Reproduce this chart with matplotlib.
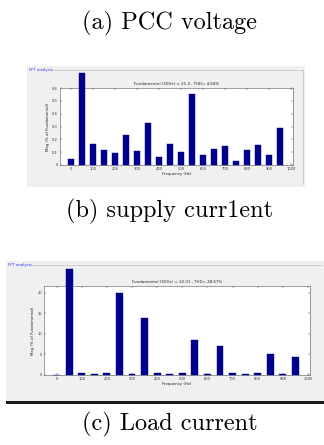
import matplotlib
matplotlib.use("Agg")
import matplotlib.pyplot as plt
from matplotlib.patches import Rectangle
from matplotlib.lines import Line2D

W, H = 324, 445
DPI = 100

freqs = [0, 50, 100, 150, 200, 250, 300, 350, 400, 450, 500,
         550, 600, 650, 700, 750, 800, 850, 900, 950]
pcc_mag = [0.047, 0.72, 0.164, 0.115, 0.097, 0.237, 0.11, 0.331, 0.065, 0.162,
           0.104, 0.553, 0.078, 0.125, 0.151, 0.031, 0.115, 0.154, 0.076, 0.29]
load_mag = [0.1, 25.8, 0.5, 0.25, 0.5, 19.8, 0.3, 13.9, 0.5, 0.25,
            0.5, 8.6, 0.3, 7.0, 0.45, 0.2, 0.45, 5.2, 0.3, 4.4]
xticks = [0, 100, 200, 300, 400, 500, 600, 700, 800, 900, 1000]
pcc_yticks = [0, 0.1, 0.2, 0.3, 0.4, 0.5, 0.6]
pcc_yticklabels = ["0", "0.1", "0.2", "0.3", "0.4", "0.5", "0.6"]
load_yticks = [0, 5, 10, 15, 20]
pcc_title = "Fundamental (50Hz) = 21.3 , THD= 4.64%"
load_title = "Fundamental (50Hz) = 22.01 , THD= 28.67%"
captions = ["(a) PCC voltage", "(b) supply curr1ent", "(c) Load current"]

BAR = "#00008c"
GREY = "#f0f0f0"

fig = plt.figure(figsize=(W / DPI, H / DPI), dpi=DPI)
fig.patch.set_facecolor("white")


def box(l, t, r, b):
    return [l / W, 1 - b / H, (r - l) / W, (b - t) / H]


def fx(x):
    return x / W


def fy(y):
    return 1 - y / H


def panel(gl, gt, gr, gb, al, at, ar, ab, mags, yticks, ylabels, ylim, title,
          frame_right=True):
    bg = fig.add_axes(box(gl, gt, gr, gb))
    bg.set_facecolor(GREY)
    bg.set_xticks([]); bg.set_yticks([])
    for s in bg.spines.values():
        s.set_visible(False)
    fig.add_artist(Line2D([fx(gl + 26), fx(gr - 2)], [fy(gt + 4), fy(gt + 4)],
                          color="#c8c8c8", lw=0.6))
    if frame_right:
        fig.add_artist(Line2D([fx(gr - 2), fx(gr - 2)], [fy(gt + 4), fy(gb - 3)],
                              color="#c8c8c8", lw=0.6))
    fig.text(fx(gl + 2), fy(gt + 4), "FFT analysis", fontsize=2.8,
             color="#3030ff", va="center", ha="left")

    ax = fig.add_axes(box(al, at, ar, ab))
    ax.set_facecolor("white")
    ax.bar(freqs, mags, width=27, color=BAR, edgecolor=BAR, linewidth=0.3,
           clip_on=False, zorder=3)
    ax.set_xlim(-50, 1008)
    ax.set_ylim(*ylim)
    ax.set_xticks(xticks)
    ax.set_xticklabels([str(t) for t in xticks])
    ax.set_yticks(yticks)
    ax.set_yticklabels(ylabels)
    ax.tick_params(direction="in", length=1.5, width=0.3, labelsize=2.6,
                   pad=1.5, top=True, right=True, colors="#333333")
    for s in ax.spines.values():
        s.set_linewidth(0.4)
        s.set_color("#555555")
    ax.set_title(title, fontsize=2.9, pad=2.5, color="#222222")
    ax.set_xlabel("Frequency (Hz)", fontsize=2.8, labelpad=1, color="#222222")
    ax.set_ylabel("Mag (% of Fundamental)", fontsize=2.8, labelpad=1.5,
                  color="#222222")
    return ax


panel(27, 66, 305, 187, 60, 88, 293, 165, pcc_mag, pcc_yticks,
      pcc_yticklabels, (0, 0.6), pcc_title)
panel(6, 261, 324, 401, 44, 286, 310, 375, load_mag, load_yticks,
      [str(t) for t in load_yticks], (0, 21.6), load_title, frame_right=False)

fig.add_artist(Rectangle((fx(6), fy(404)), fx(318), 3.0 / H,
                         transform=fig.transFigure, color="#1a1a1a", lw=0))

cap_y = [23, 211, 424]
for c, y in zip(captions, cap_y):
    fig.text(fx(170), fy(y), c, fontsize=17.5, family="cmr10",
             ha="center", va="center", color="black")

fig.savefig("out.png", dpi=DPI, facecolor="white")
